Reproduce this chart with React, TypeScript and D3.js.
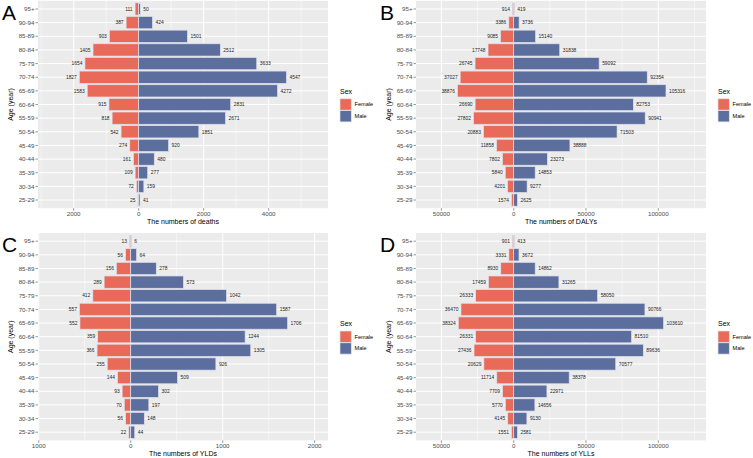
import * as d3 from 'd3';

// Age groups, oldest at the top of each pyramid
const ageGroups = ['95+', '90-94', '85-89', '80-84', '75-79', '70-74', '65-69', '60-64', '55-59', '50-54', '45-49', '40-44', '35-39', '30-34', '25-29'];

const deathsFemale = [111, 387, 903, 1405, 1654, 1827, 1583, 915, 818, 542, 274, 161, 109, 72, 25];
const deathsMale = [50, 424, 1501, 2512, 3633, 4547, 4272, 2831, 2671, 1851, 920, 480, 277, 159, 41];

const dalysFemale = [914, 3386, 9085, 17748, 26745, 37027, 38876, 26690, 27802, 20883, 11858, 7802, 5840, 4201, 1574];
const dalysMale = [419, 3736, 15140, 31838, 59092, 92354, 105316, 82753, 90941, 71503, 38888, 23273, 14853, 9277, 2625];

const yldsFemale = [13, 56, 156, 289, 412, 557, 552, 359, 366, 255, 144, 93, 70, 56, 22];
const yldsMale = [6, 64, 278, 573, 1042, 1587, 1706, 1244, 1305, 926, 509, 302, 197, 148, 44];

const yllsFemale = [901, 3331, 8930, 17459, 26333, 36470, 38324, 26331, 27436, 20629, 11714, 7709, 5770, 4145, 1551];
const yllsMale = [413, 3672, 14862, 31265, 58050, 90766, 103610, 81510, 89636, 70577, 38378, 22971, 14656, 9130, 2581];

const sexes = ['Female', 'Male'];
const sexColors = ['#E96A58', '#5C6E9D'];

const deathTicks = [-2000, 0, 2000, 4000];
const dalyTicks = [-50000, 0, 50000, 100000];
const yldTicks = [-1000, 0, 1000, 2000];

const FONT = '"Liberation Sans", Arial, sans-serif';

interface PyramidProps {
  x: number;
  y: number;
  female: number[];
  male: number[];
  domain: [number, number];
  ticks: number[];
  title: string;
  letter: string;
}

const W = 290;
const H = 207.4;

function Pyramid({ x, y, female, male, domain, ticks, title, letter }: PyramidProps) {
  const xs = d3.scaleLinear().domain(domain).range([x, x + W]);
  const ys = d3.scalePoint<string>().domain(ageGroups).range([y, y + H]).padding(0.6);
  const bh = ys.step() * 0.9;
  const tstep = ticks[1] - ticks[0];
  const minor = d3.range(ticks[0] - tstep * 2.5, domain[1], tstep)
    .filter(v => v > domain[0] && v < domain[1]);
  const lx = x + W + 12;

  return (
    <g fontFamily={FONT}>
      <rect x={x} y={y} width={W} height={H} fill="#EBEBEB" />
      {minor.map(v => (
        <line key={'m' + v} x1={xs(v)} x2={xs(v)} y1={y} y2={y + H} stroke="#fff" strokeWidth={0.5} />
      ))}
      {ticks.map(v => (
        <line key={'t' + v} x1={xs(v)} x2={xs(v)} y1={y} y2={y + H} stroke="#fff" strokeWidth={1} />
      ))}
      {ageGroups.map(a => (
        <line key={'h' + a} x1={x} x2={x + W} y1={ys(a)} y2={ys(a)} stroke="#fff" strokeWidth={1} />
      ))}
      {ageGroups.map((a, i) => (
        <g key={'b' + a}>
          <rect x={xs(-female[i])} y={ys(a)! - bh / 2} width={xs(0) - xs(-female[i])} height={bh}
            fill={sexColors[0]} stroke="#dfe2ec" strokeWidth={0.7} />
          <rect x={xs(0)} y={ys(a)! - bh / 2} width={xs(male[i]) - xs(0)} height={bh}
            fill={sexColors[1]} stroke="#dfe2ec" strokeWidth={0.7} />
          <text x={xs(-female[i]) - 2.5} y={ys(a)} dy="0.35em" textAnchor="end" fontSize={4.9} fill="#222">{female[i]}</text>
          <text x={xs(male[i]) + 3} y={ys(a)} dy="0.35em" textAnchor="start" fontSize={4.9} fill="#222">{male[i]}</text>
        </g>
      ))}
      {ageGroups.map(a => (
        <g key={'y' + a}>
          <line x1={x - 2.5} x2={x} y1={ys(a)} y2={ys(a)} stroke="#333" strokeWidth={0.5} />
          <text x={x - 3.5} y={ys(a)} dy="0.35em" textAnchor="end" fontSize={6.2} fill="#4D4D4D">{a}</text>
        </g>
      ))}
      {ticks.map(v => (
        <g key={'x' + v}>
          <line x1={xs(v)} x2={xs(v)} y1={y + H} y2={y + H + 2.5} stroke="#333" strokeWidth={0.5} />
          <text x={xs(v)} y={y + H + 3} dy="0.71em" textAnchor="middle" fontSize={6.2} fill="#4D4D4D">{Math.abs(v)}</text>
        </g>
      ))}
      <text x={x + W / 2} y={y + H + 11} dy="0.71em" textAnchor="middle" fontSize={7} fill="#000">{title}</text>
      <text transform={`translate(${x - 25},${y + H / 2}) rotate(-90)`} textAnchor="middle" fontSize={7} fill="#000">Age (year)</text>
      <text x={x - 36} y={y + 19} fontSize={21} fill="#000">{letter}</text>
      <text x={lx} y={y + 91} dy="0.35em" fontSize={7} fill="#000">Sex</text>
      {sexes.map((s, i) => (
        <g key={s}>
          <rect x={lx} y={y + 98 + i * 11.8} width={11.3} height={11.3} fill={sexColors[i]} stroke="#dfe2ec" strokeWidth={0.7} />
          <text x={lx + 14.5} y={y + 98 + i * 11.8 + 5.65} dy="0.35em" fontSize={5.6} fill="#000">{s}</text>
        </g>
      ))}
    </g>
  );
}

export default function App() {
  return (
    <svg width={753} height={458} style={{ position: 'absolute', left: 0, top: 0, background: '#fff' }}>
      <rect width={753} height={458} fill="#fff" />
      <Pyramid x={38} y={0.8} female={deathsFemale} male={deathsMale} domain={[-3098, 5825]}
        ticks={deathTicks} title="The numbers of deaths" letter="A" />
      <Pyramid x={416} y={0.8} female={dalysFemale} male={dalysMale} domain={[-67566, 132988]}
        ticks={dalyTicks} title="The numbers of DALYs" letter="B" />
      <Pyramid x={38} y={233} female={yldsFemale} male={yldsMale} domain={[-1008, 2145]}
        ticks={yldTicks} title="The numbers of YLDs" letter="C" />
      <Pyramid x={416} y={233} female={yllsFemale} male={yllsMale} domain={[-67566, 132988]}
        ticks={dalyTicks} title="The numbers of YLLs" letter="D" />
    </svg>
  );
}
